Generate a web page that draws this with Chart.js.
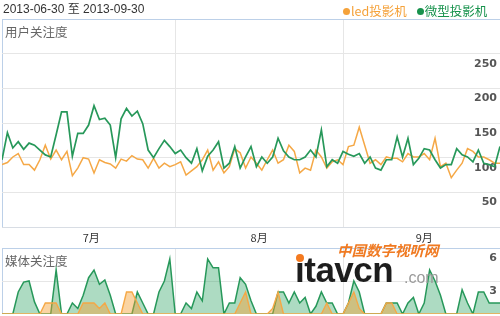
<!DOCTYPE html>
<html><head><meta charset="utf-8">
<script src="https://cdn.jsdelivr.net/npm/chart.js@4/dist/chart.umd.min.js"></script>
<style>
html,body{margin:0;padding:0;background:#fff;}
#wrap{position:relative;width:500px;height:316px;overflow:hidden;background:#fff;font-family:"Noto Sans CJK SC","Liberation Sans",sans-serif;}
canvas{position:absolute;left:0;}
#c1{top:0;} #c2{top:248px;}
.t{position:absolute;white-space:nowrap;line-height:1;}
#title{left:3px;top:2px;font-family:"Liberation Sans",sans-serif;font-size:12px;color:#333;}
#title .cj{font-family:"Noto Sans CJK SC";}
#legend{left:343px;top:5px;font-size:12.5px;}
#legend .dot{display:inline-block;width:7px;height:7px;border-radius:50%;margin-right:1px;vertical-align:1px;}
#legend .o{color:#f5a23a;margin-right:10px;}
#legend .o .dot{background:#f5a23a;}
#legend .g{color:#17924c;}
#legend .g .dot{background:#17924c;}
.sub{left:5px;font-size:12.5px;color:#666;}
#s1{top:26px;} #s2{top:255px;}
#logo1{left:337px;top:243px;font-size:14.5px;font-weight:bold;font-style:italic;color:#f07a22;}
#logo2{left:295px;top:252px;font-family:"Liberation Sans",sans-serif;font-size:35px;font-weight:bold;color:#1d1d1d;letter-spacing:-0.5px;}
#logo3{left:404px;top:270px;font-family:"Liberation Sans",sans-serif;font-size:16px;color:#9a9a9a;}
#dot{left:296px;top:254px;width:8px;height:8px;border-radius:50%;background:#f47a20;}
</style></head><body>
<div id="wrap">
<canvas id="c1" width="500" height="248"></canvas>
<canvas id="c2" width="500" height="68"></canvas>
<div class="t" id="title">2013-06-30 <span class="cj">至</span> 2013-09-30</div>
<div class="t" id="legend"><span class="o"><span class="dot"></span>led投影机</span><span class="g"><span class="dot"></span>微型投影机</span></div>
<div class="t sub" id="s1">用户关注度</div>
<div class="t sub" id="s2">媒体关注度</div>
<div class="t" id="logo1">中国数字视听网</div>
<div class="t" id="logo2">ıtavcn</div>
<div class="t" id="dot"></div>
<div class="t" id="logo3">.com</div>
</div>
<script>
// ---- data (day index 0 = 2013-06-30 ... 92 = 2013-09-30) ----
const startDate = '2013-06-30';
const endDate = '2013-09-30';
const seriesNames = ['led投影机', '微型投影机'];

const ledUser = [
  90, 93, 101, 106, 90, 90, 82, 97, 118, 98, 111, 97, 109, 74, 85, 100, 98, 78, 97, 93,
  91, 85, 98, 95, 103, 98, 97, 85, 99, 85, 92, 87, 90, 94, 75, 81, 87, 97, 111, 82,
  94, 78, 87, 113, 107, 85, 101, 92, 82, 97, 111, 92, 97, 118, 109, 78, 85, 82, 111, 101,
  85, 94, 97, 90, 116, 118, 144, 118, 92, 97, 90, 101, 99, 99, 94, 106, 101, 101, 106, 97,
  128, 87, 92, 71, 82, 92, 113, 109, 101, 101, 97, 92, 92
];
const microUser = [
  97, 136, 114, 123, 112, 121, 118, 111, 104, 101, 133, 166, 166, 102, 135, 135, 147, 175, 155, 157,
  147, 100, 156, 171, 160, 167, 149, 111, 100, 113, 125, 116, 106, 111, 100, 92, 113, 81, 102, 111,
  123, 85, 92, 116, 85, 101, 116, 87, 101, 92, 101, 128, 110, 101, 97, 97, 101, 111, 101, 140,
  87, 97, 92, 109, 105, 102, 106, 92, 101, 85, 82, 97, 97, 130, 101, 128, 90, 99, 113, 111,
  97, 85, 90, 90, 113, 104, 101, 94, 111, 92, 90, 87, 116
];
const ledMedia = [
  0, 0, 0, 0, 0, 0, 0, 0, 1, 1, 1, 0, 0, 0, 0, 1, 1, 1, 0.5, 1,
  0, 0, 0, 2, 2, 1, 0, 0, 0, 0, 0, 0, 0, 0, 0, 0, 0, 0, 0, 0,
  0, 0, 0, 0, 1, 2, 0, 0, 0, 0, 0.5, 2, 0, 0, 0, 0, 0, 0, 0, 0,
  1, 0, 0, 0, 1, 2, 0.5, 0, 0, 0, 0, 1, 1, 0, 0, 0, 0, 0, 0, 0,
  0, 0, 0, 0, 0, 0, 0, 0, 0, 0, 0, 0, 0
];
const microMedia = [
  0, 0, 0, 2, 2.9, 3, 1.1, 0, 0, 0, 4, 0, 0, 1, 0.5, 1.7, 3.3, 4, 2.7, 3.1,
  1.7, 0, 0, 0, 0, 2, 1, 0, 0, 2, 3, 5, 0, 0, 1, 0.5, 2, 1.2, 5, 4.2,
  4.2, 0, 1, 1, 3.3, 2.7, 1.2, 0, 0, 0, 0, 2, 2, 1, 2, 1, 1.5, 0, 0.7, 2,
  1, 1, 0, 0, 1, 3, 2, 0, 0, 0, 0, 1, 1, 1, 0, 1, 1.5, 0, 1, 4,
  3, 1.7, 0, 0, 0, 2.2, 1, 0, 2, 2, 1, 1, 1
];
const monthLabels = ['7月', '8月', '9月'];
const monthLabelDays = [16.5, 47.5, 78];   // middle of each month
const monthStartDays = [32, 63];            // Aug 1, Sep 1
const userTicks = [50, 100, 150, 200, 250];
const mediaTicks = [3, 6];

const ORANGE = '#f5a846';
const GREEN = '#27985a';
const FRAME = '#bcd0e8';
const GRID = '#e6e6e6';
const FONT = '"Noto Sans CJK SC","Liberation Sans",sans-serif';

const pts = arr => arr.map((v, i) => ({x: i, y: v}));
const lastDay = ledUser.length - 1;
const noPad = s => { s.paddingTop = 0; s.paddingBottom = 0; s.paddingLeft = 0; s.paddingRight = 0; };

// ---- top chart: 用户关注度 ----
new Chart(document.getElementById('c1'), {
  type: 'line',
  data: {datasets: [
    {label: seriesNames[1], data: pts(microUser), borderColor: GREEN, borderWidth: 1.7, pointRadius: 0, tension: 0, fill: false},
    {label: seriesNames[0], data: pts(ledUser), borderColor: ORANGE, borderWidth: 1.5, pointRadius: 0, tension: 0, fill: false}
  ]},
  options: {
    responsive: false, animation: false, devicePixelRatio: 1,
    layout: {padding: {top: 19, left: 2, right: 0, bottom: 0}},
    plugins: {legend: {display: false}, tooltip: {enabled: false}},
    scales: {
      x: {
        type: 'linear', min: 0, max: lastDay,
        afterBuildTicks: s => { s.ticks = [0, ...monthStartDays, ...monthLabelDays].sort((a,b)=>a-b).map(v => ({value: v})); },
        afterFit: s => { s.height = 21; noPad(s); },
        grid: {drawTicks: false, lineWidth: 1,
          color: c => c.tick && c.tick.value === 0 ? FRAME : (c.tick && monthStartDays.includes(c.tick.value) ? GRID : 'rgba(0,0,0,0)')},
        border: {display: true, color: '#d8dde4'},
        ticks: {padding: 4, autoSkip: false, maxRotation: 0, color: '#333', font: {size: 11, family: FONT},
          callback: v => { const k = monthLabelDays.indexOf(v); return k >= 0 ? monthLabels[k] : ''; }}
      },
      y: {
        position: 'right', min: 0, max: 300,
        afterBuildTicks: s => { s.ticks = [0, ...userTicks, 300].map(v => ({value: v})); },
        afterFit: s => { s.width = 0; noPad(s); },
        grid: {drawTicks: false, color: c => c.tick && c.tick.value === 300 ? FRAME : GRID},
        border: {display: false},
        ticks: {mirror: true, padding: -3, labelOffset: 10, color: '#555',
          font: {size: 11, weight: 'bold', family: '"DejaVu Sans",sans-serif'},
          callback: v => userTicks.includes(v) ? String(v) : ''}
      }
    }
  }
});

// ---- bottom chart: 媒体关注度 ----
new Chart(document.getElementById('c2'), {
  type: 'line',
  data: {datasets: [
    {label: seriesNames[0], data: pts(ledMedia), borderColor: ORANGE, borderWidth: 1.4, pointRadius: 0, tension: 0,
     fill: 'origin', backgroundColor: 'rgba(245,160,50,0.45)'},
    {label: seriesNames[1], data: pts(microMedia), borderColor: GREEN, borderWidth: 1.5, pointRadius: 0, tension: 0,
     fill: 'origin', backgroundColor: 'rgba(40,160,95,0.38)'}
  ]},
  options: {
    responsive: false, animation: false, devicePixelRatio: 1,
    layout: {padding: {top: 0, left: 2, right: 0, bottom: 2}},
    plugins: {legend: {display: false}, tooltip: {enabled: false}},
    scales: {
      x: {
        type: 'linear', min: 0, max: lastDay,
        afterBuildTicks: s => { s.ticks = [0, ...monthStartDays].map(v => ({value: v})); },
        afterFit: s => { s.height = 0; noPad(s); },
        grid: {drawTicks: false, color: c => c.tick && c.tick.value === 0 ? FRAME : GRID},
        border: {display: false},
        ticks: {display: false}
      },
      y: {
        position: 'right', min: 0, max: 6,
        afterBuildTicks: s => { s.ticks = mediaTicks.map(v => ({value: v})); },
        afterFit: s => { s.width = 0; noPad(s); },
        grid: {drawTicks: false, color: c => c.tick && c.tick.value === 6 ? FRAME : GRID},
        border: {display: false},
        ticks: {mirror: true, padding: -3, labelOffset: 10, color: '#555',
          font: {size: 11, weight: 'bold', family: '"DejaVu Sans",sans-serif'},
          callback: v => String(v)}
      }
    }
  }
});
</script>
</body></html>
